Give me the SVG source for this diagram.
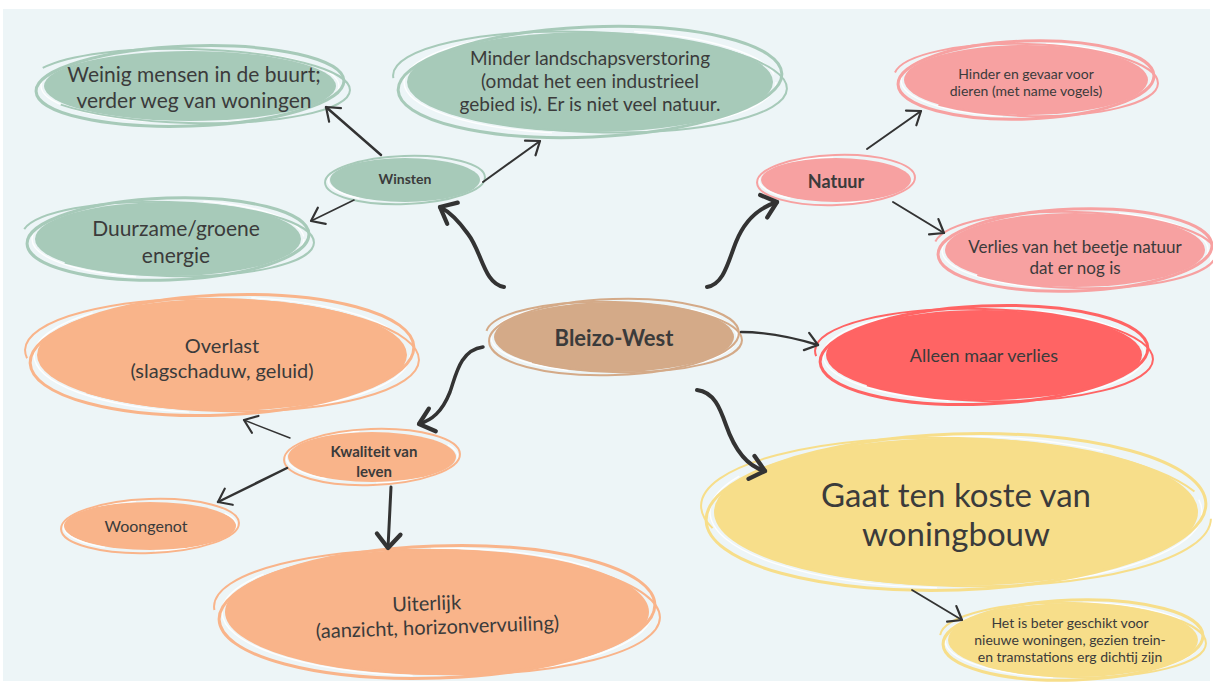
<svg xmlns="http://www.w3.org/2000/svg" width="1213" height="683" viewBox="0 0 1213 683">
<style>
.t{font-family:Lato,"Noto Sans",sans-serif;fill:#3b3b3b;text-anchor:middle;dominant-baseline:central}
.b{font-weight:700}
.g{fill:#A7CAB9}.gs{stroke:#A7CAB9}
.p{fill:#F7A1A1}.ps{stroke:#F7A1A1}
.r{fill:#FF6464}.rs{stroke:#FF6464}
.o{fill:#F9B48A}.os{stroke:#F9B48A}
.n{fill:#D4AA88}.ns{stroke:#D4AA88}
.y{fill:#F7DE8A}.ys{stroke:#F7DE8A}
.ring{fill:none;stroke-width:3}
.ring2{fill:none;stroke-width:2}
.wh{fill:none;stroke:#ffffff;stroke-width:1.4;opacity:.9}
.c{fill:none;stroke:#333;stroke-linecap:round;stroke-linejoin:round}
</style>
<defs>
<marker id="ah" markerUnits="userSpaceOnUse" markerWidth="24" markerHeight="24" refX="0" refY="0" viewBox="-14 -12 16 24" orient="auto">
<path d="M-12,-9 L0,0 L-12,9" fill="none" stroke="#333" stroke-width="2.2" stroke-linecap="round" stroke-linejoin="round"/>
</marker>
<marker id="ahb" markerUnits="userSpaceOnUse" markerWidth="30" markerHeight="30" refX="0" refY="0" viewBox="-16 -14 18 28" orient="auto">
<path d="M-13,-11 L0,0 L-13,11" fill="none" stroke="#333" stroke-width="4" stroke-linecap="round" stroke-linejoin="round"/>
</marker>
</defs>
<rect x="0" y="0" width="1213" height="683" fill="#ffffff"/>
<rect x="3" y="9" width="1207" height="672" fill="#EDF5F7"/>

<g id="n-weinig" transform="translate(190,86)">
<ellipse class="g" rx="146" ry="35"/>
<ellipse class="wh" rx="149" ry="37" stroke-dasharray="120 80 200 140"/>
<ellipse class="ring gs" rx="154" ry="40" transform="rotate(-2)"/>
<ellipse class="ring2 gs" rx="160" ry="37" transform="rotate(1.5)" stroke-dasharray="300 60 400 100"/>
<text class="t" x="4" y="-13" font-size="21">Weinig mensen in de buurt;</text>
<text class="t" x="4" y="13" font-size="21">verder weg van woningen</text>
</g>

<g id="n-minder" transform="translate(590,82)">
<ellipse class="g" rx="183" ry="50"/>
<ellipse class="wh" rx="186" ry="52" stroke-dasharray="150 90 250 160"/>
<ellipse class="ring gs" rx="192" ry="55" transform="rotate(-2.5)"/>
<ellipse class="ring2 gs" rx="197" ry="50" transform="rotate(2)" stroke-dasharray="350 70 450 120"/>
<text class="t" x="0" y="-25" font-size="19">Minder landschapsverstoring</text>
<text class="t" x="0" y="-2" font-size="19">(omdat het een industrieel</text>
<text class="t" x="0" y="21" font-size="19">gebied is). Er is niet veel natuur.</text>
</g>

<g id="n-winsten" transform="translate(405,180)">
<ellipse class="g" rx="75" ry="22"/>
<ellipse class="wh" rx="77" ry="23" stroke-dasharray="80 50 120 90"/>
<ellipse class="ring2 gs" rx="80" ry="24" transform="rotate(-2)"/>
<text class="t b" x="0" y="-2" font-size="14">Winsten</text>
</g>

<g id="n-duurzaam" transform="translate(168,239)">
<ellipse class="g" rx="133" ry="37"/>
<ellipse class="wh" rx="136" ry="39" stroke-dasharray="110 70 180 120"/>
<ellipse class="ring gs" rx="141" ry="41" transform="rotate(-2)"/>
<ellipse class="ring2 gs" rx="146" ry="37" transform="rotate(1.5)" stroke-dasharray="260 60 350 90"/>
<text class="t" x="8" y="-12" font-size="21">Duurzame/groene</text>
<text class="t" x="8" y="15" font-size="21">energie</text>
</g>

<g id="n-natuur" transform="translate(836,180)">
<ellipse class="p" rx="75" ry="22"/>
<ellipse class="wh" rx="77" ry="23" stroke-dasharray="80 50 120 90"/>
<ellipse class="ring2 ps" rx="79" ry="25" transform="rotate(-2)"/>
<text class="t b" x="0" y="1" font-size="18">Natuur</text>
</g>

<g id="n-hinder" transform="translate(1026,80)">
<ellipse class="p" rx="122" ry="35"/>
<ellipse class="wh" rx="125" ry="37" stroke-dasharray="100 60 160 110"/>
<ellipse class="ring ps" rx="128" ry="39" transform="rotate(-2)"/>
<ellipse class="ring2 ps" rx="132" ry="36" transform="rotate(1.5)" stroke-dasharray="230 60 300 90"/>
<text class="t" x="0" y="-7" font-size="14">Hinder en gevaar voor</text>
<text class="t" x="0" y="10" font-size="14">dieren (met name vogels)</text>
</g>

<g id="n-verlies" transform="translate(1075,250)">
<ellipse class="p" rx="130" ry="37"/>
<ellipse class="wh" rx="133" ry="39" stroke-dasharray="110 70 180 120"/>
<ellipse class="ring ps" rx="137" ry="41" transform="rotate(-2)"/>
<ellipse class="ring2 ps" rx="141" ry="38" transform="rotate(1.5)" stroke-dasharray="250 60 330 90"/>
<text class="t" x="0" y="-4" font-size="17">Verlies van het beetje natuur</text>
<text class="t" x="0" y="17" font-size="17">dat er nog is</text>
</g>

<g id="n-bleizo" transform="translate(614,337)">
<ellipse class="n" rx="120" ry="35"/>
<ellipse class="wh" rx="123" ry="36" stroke-dasharray="110 70 180 120"/>
<ellipse class="ring2 ns" rx="125" ry="38" transform="rotate(-2)"/>
<ellipse class="ring2 ns" rx="128" ry="35" transform="rotate(1.5)" stroke-dasharray="220 60 300 90"/>
<text class="t b" x="0" y="0" font-size="22">Bleizo-West</text>
</g>

<g id="n-alleen" transform="translate(984,355)">
<ellipse class="r" rx="158" ry="45"/>
<ellipse class="wh" rx="161" ry="47" stroke-dasharray="130 80 220 150"/>
<ellipse class="ring rs" rx="164" ry="49" transform="rotate(-2.5)"/>
<ellipse class="ring2 rs" rx="169" ry="46" transform="rotate(1.5)" stroke-dasharray="300 60 400 100"/>
<text class="t" x="0" y="0" font-size="18">Alleen maar verlies</text>
</g>

<g id="n-overlast" transform="translate(222,355)">
<ellipse class="o" rx="185" ry="56"/>
<ellipse class="wh" rx="188" ry="58" stroke-dasharray="150 90 250 160"/>
<ellipse class="ring os" rx="192" ry="60" transform="rotate(-2.5)"/>
<ellipse class="ring2 os" rx="197" ry="56" transform="rotate(1.5)" stroke-dasharray="350 70 450 120"/>
<text class="t" x="0" y="-10" font-size="20">Overlast</text>
<text class="t" x="0" y="15" font-size="20">(slagschaduw, geluid)</text>
</g>

<g id="n-kwaliteit" transform="translate(372,457)">
<ellipse class="o" rx="84" ry="25"/>
<ellipse class="wh" rx="86" ry="26" stroke-dasharray="90 50 130 90"/>
<ellipse class="ring2 os" rx="88" ry="28" transform="rotate(-2)"/>
<text class="t b" x="2" y="-6" font-size="15">Kwaliteit van</text>
<text class="t b" x="2" y="14" font-size="15">leven</text>
</g>

<g id="n-woongenot" transform="translate(150,526)">
<ellipse class="o" rx="86" ry="24"/>
<ellipse class="wh" rx="87" ry="25" stroke-dasharray="90 50 130 90"/>
<ellipse class="ring2 os" rx="89" ry="27" transform="rotate(-2)"/>
<text class="t" x="-4" y="-1" font-size="16">Woongenot</text>
</g>

<g id="n-uiterlijk" transform="translate(437,612)">
<ellipse class="o" rx="212" ry="63"/>
<ellipse class="wh" rx="215" ry="64" stroke-dasharray="160 100 270 170"/>
<ellipse class="ring os" rx="218" ry="66" transform="rotate(-2)"/>
<ellipse class="ring2 os" rx="223" ry="62" transform="rotate(1.5)" stroke-dasharray="400 80 500 120"/>
<g transform="rotate(-2)">
<text class="t" x="-10" y="-10" font-size="20">Uiterlijk</text>
<text class="t" x="0" y="14" font-size="20">(aanzicht, horizonvervuiling)</text>
</g>
</g>

<g id="n-gaat" transform="translate(956,512)">
<ellipse class="y" rx="242" ry="74"/>
<ellipse class="wh" rx="246" ry="76" stroke-dasharray="180 110 300 190"/>
<ellipse class="ring ys" rx="250" ry="78" transform="rotate(-2)"/>
<ellipse class="ring2 ys" rx="255" ry="74" transform="rotate(1.5)" stroke-dasharray="450 80 550 130"/>
<text class="t" x="0" y="-18" font-size="33">Gaat ten koste van</text>
<text class="t" x="0" y="21" font-size="33">woningbouw</text>
</g>

<g id="n-het" transform="translate(1073,640)">
<ellipse class="y" rx="125" ry="37"/>
<ellipse class="wh" rx="128" ry="38" stroke-dasharray="100 60 160 110"/>
<ellipse class="ring ys" rx="130" ry="40" transform="rotate(-2)"/>
<ellipse class="ring2 ys" rx="133" ry="37" transform="rotate(1.5)" stroke-dasharray="230 60 300 90"/>
<text class="t" x="-3" y="-18" font-size="14">Het is beter geschikt voor</text>
<text class="t" x="-3" y="-1" font-size="14">nieuwe woningen, gezien trein-</text>
<text class="t" x="-3" y="16" font-size="14">en tramstations erg dichtij zijn</text>
</g>

<g id="connectors">
<path class="c" d="M381,155 L326,107" stroke-width="2.5" marker-end="url(#ah)"/>
<path class="c" d="M483,182 L540,141" stroke-width="2" marker-end="url(#ah)"/>
<path class="c" d="M354,200 L311,221" stroke-width="1.6" marker-end="url(#ah)"/>
<path class="c" d="M504,287 C484,284 482,252 468,234 C458,220 450,212 440,207" stroke-width="4" marker-end="url(#ahb)"/>
<path class="c" d="M707,287 C724,284 728,262 736,242 C744,222 758,208 777,202" stroke-width="4" marker-end="url(#ahb)"/>
<path class="c" d="M867,149 L921,111" stroke-width="2" marker-end="url(#ah)"/>
<path class="c" d="M893,202 L944,233" stroke-width="2" marker-end="url(#ah)"/>
<path class="c" d="M741,332 C770,332 795,338 818,345" stroke-width="2.4" marker-end="url(#ah)"/>
<path class="c" d="M483,347 C460,350 456,375 450,392 C442,412 432,420 419,424" stroke-width="3.5" marker-end="url(#ahb)"/>
<path class="c" d="M290,438 L244,420" stroke-width="1.4" marker-end="url(#ah)"/>
<path class="c" d="M287,468 L218,502" stroke-width="2.5" marker-end="url(#ah)"/>
<path class="c" d="M391,487 L388,548" stroke-width="3" marker-end="url(#ahb)"/>
<path class="c" d="M697,390 C714,392 720,408 726,425 C734,448 746,466 765,471" stroke-width="4" marker-end="url(#ahb)"/>
<path class="c" d="M912,590 L962,620" stroke-width="1.8" marker-end="url(#ah)"/>
</g>
</svg>
